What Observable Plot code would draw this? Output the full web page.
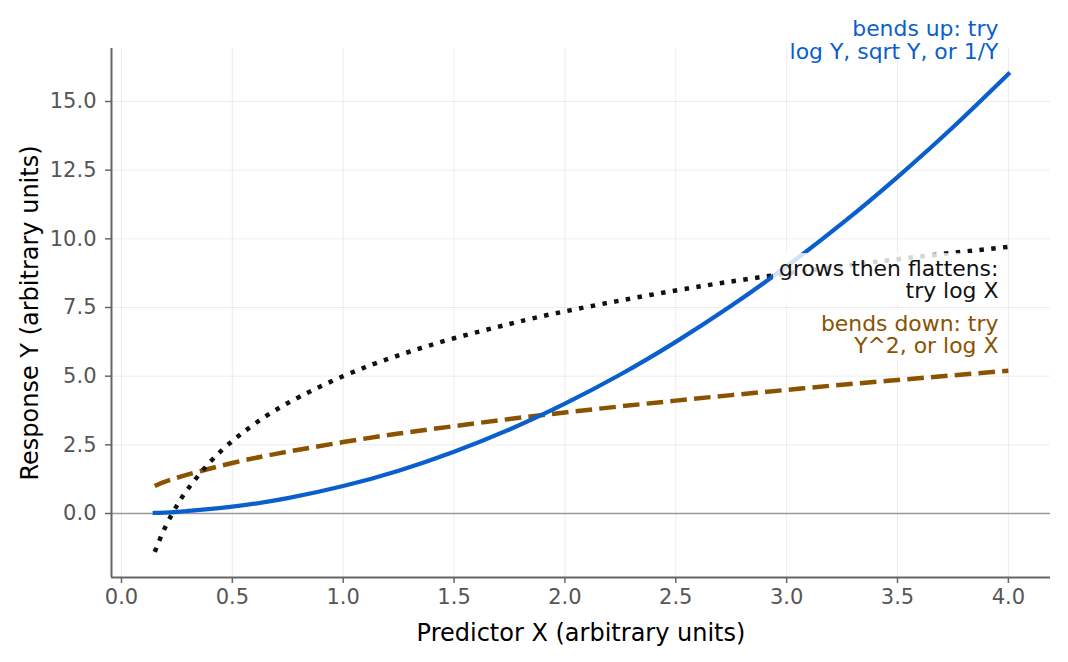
<!DOCTYPE html>
<html>
<head>
<meta charset="utf-8">
<script src="https://cdn.jsdelivr.net/npm/d3@7"></script>
<script src="https://cdn.jsdelivr.net/npm/@observablehq/plot@0.6"></script>
<style>
  html, body { margin: 0; padding: 0; background: #ffffff; }
  #chart svg { display: block; }
</style>
</head>
<body>
<div id="chart"></div>
<script>
// Three curve shapes and the transformation each one suggests.
const xQuad = [0.15, 0.25, 0.5, 0.75, 1.0, 1.25, 1.5, 1.75, 2.0, 2.25, 2.5, 2.75, 3.0, 3.25, 3.5, 3.75, 4.0];
const yQuad = [0.02, 0.06, 0.25, 0.56, 1.0, 1.56, 2.25, 3.06, 4.0, 5.06, 6.25, 7.56, 9.0, 10.56, 12.25, 14.06, 16.0];

const xRoot = [0.15, 0.25, 0.5, 0.75, 1.0, 1.25, 1.5, 1.75, 2.0, 2.25, 2.5, 2.75, 3.0, 3.25, 3.5, 3.75, 4.0];
const yRoot = [1.0, 1.3, 1.84, 2.25, 2.6, 2.91, 3.18, 3.44, 3.68, 3.9, 4.11, 4.31, 4.5, 4.69, 4.86, 5.03, 5.2];

const xLog = [0.15, 0.2, 0.25, 0.3, 0.4, 0.5, 0.6, 0.75, 1.0, 1.25, 1.5, 1.75, 2.0, 2.5, 3.0, 3.5, 4.0];
const yLog = [-1.4, -0.45, 0.29, 0.9, 1.88, 2.64, 3.26, 4.02, 5.0, 5.76, 6.38, 6.9, 7.36, 8.12, 8.74, 9.26, 9.71];

const xTicks = [0, 0.5, 1.0, 1.5, 2.0, 2.5, 3.0, 3.5, 4.0];
const yTicks = [0, 2.5, 5.0, 7.5, 10.0, 12.5, 15.0];

const xLabel = "Predictor X (arbitrary units)";
const yLabel = "Response Y (arbitrary units)";

const BLUE = "#0a5fcc";
const BROWN = "#8a5300";
const BLACK = "#111111";

// Annotation notes, right-aligned near the right edge of the curves.
const noteUp = [{x: 3.955, y: 18.0, text: "bends up: try\nlog Y, sqrt Y, or 1/Y"}];
const noteBoxed = [
  {x: 3.955, y: 9.21, text: "grows then flattens:\ntry log X", color: BLACK},
  {x: 3.955, y: 7.21, text: "bends down: try\nY^2, or log X", color: BROWN}
];

const toRows = (xs, ys) => xs.map((x, i) => ({x, y: ys[i]}));
const quad = toRows(xQuad, yQuad);
const root = toRows(xRoot, yRoot);
const logc = toRows(xLog, yLog);

const xDomain = [-0.045, 4.19];
const yDomain = [-2.33, 16.93];

const TICK_FONT = 21;

const chart = Plot.plot({
  width: 1068,
  height: 662,
  marginLeft: 111,
  marginRight: 18,
  marginTop: 48,
  marginBottom: 85,
  style: {fontFamily: "DejaVu Sans", background: "#ffffff", overflow: "visible"},
  x: {domain: xDomain},
  y: {domain: yDomain},
  marks: [
    Plot.gridX(xTicks, {stroke: "#000", strokeOpacity: 0.075, strokeWidth: 1}),
    Plot.gridY(yTicks, {stroke: "#000", strokeOpacity: 0.075, strokeWidth: 1}),
    Plot.ruleY([0], {stroke: "#999999", strokeWidth: 1.3}),
    Plot.line(root, {x: "x", y: "y", stroke: BROWN, strokeWidth: 4.5, strokeDasharray: "16.6,7.2", strokeLinecap: "butt", curve: "natural"}),
    Plot.line(logc, {x: "x", y: "y", stroke: BLACK, strokeWidth: 4.5, strokeDasharray: "4.5,7.4", strokeLinecap: "butt", curve: "natural"}),
    Plot.line(quad, {x: "x", y: "y", stroke: BLUE, strokeWidth: 4.2, strokeLinecap: "square", curve: "natural"}),
    // left and bottom spines
    Plot.ruleX([xDomain[0]], {stroke: "#666666", strokeWidth: 2}),
    Plot.ruleY([yDomain[0]], {stroke: "#666666", strokeWidth: 2}),
    Plot.axisX({ticks: xTicks, tickFormat: d => d.toFixed(1), label: null, fontSize: TICK_FONT,
      tickSize: 6, tickPadding: 6, stroke: "#666666", strokeWidth: 1.5, fill: "#555555"}),
    Plot.axisY({ticks: yTicks, tickFormat: d => d.toFixed(1), label: null, fontSize: TICK_FONT,
      tickSize: 6, tickPadding: 9, stroke: "#666666", strokeWidth: 1.5, fill: "#555555"}),
    Plot.text([xLabel], {frameAnchor: "bottom", dy: 55.5, fontSize: 24, fill: "#000", lineAnchor: "middle"}),
    Plot.text([yLabel], {frameAnchor: "left", dx: -81.5, rotate: -90, fontSize: 24, fill: "#000",
      textAnchor: "middle", lineAnchor: "middle"}),
    Plot.text(noteUp, {x: "x", y: "y", text: "text", fill: BLUE, fontSize: 21.9, lineHeight: 1.06,
      textAnchor: "end", lineAnchor: "top"}),
    Plot.text(noteBoxed, {x: "x", y: "y", text: "text", fill: "color", fontSize: 21.9, lineHeight: 1.0,
      textAnchor: "end", lineAnchor: "top"})
  ]
});

document.getElementById("chart").appendChild(chart);

// Tick labels: make sure the larger tick font is applied to the label groups.
chart.querySelectorAll('g[aria-label="x-axis tick label"], g[aria-label="y-axis tick label"]').forEach(g => {
  g.setAttribute("font-size", TICK_FONT);
  g.style.fontSize = TICK_FONT + "px";
});

// Translucent white boxes behind the in-plot notes so the curves don't clash with the text.
const textGroups = chart.querySelectorAll('g[aria-label="text"]');
const boxedGroup = textGroups[textGroups.length - 1];
boxedGroup.querySelectorAll("text").forEach(t => {
  const b = t.getBBox();
  const r = document.createElementNS("http://www.w3.org/2000/svg", "rect");
  r.setAttribute("x", b.x - 6);
  r.setAttribute("y", b.y - 3);
  r.setAttribute("width", b.width + 11);
  r.setAttribute("height", b.height + 5);
  r.setAttribute("fill", "#ffffff");
  r.setAttribute("fill-opacity", 0.82);
  const tr = t.getAttribute("transform");
  if (tr) r.setAttribute("transform", tr);
  t.parentNode.insertBefore(r, t);
});
</script>
</body>
</html>
